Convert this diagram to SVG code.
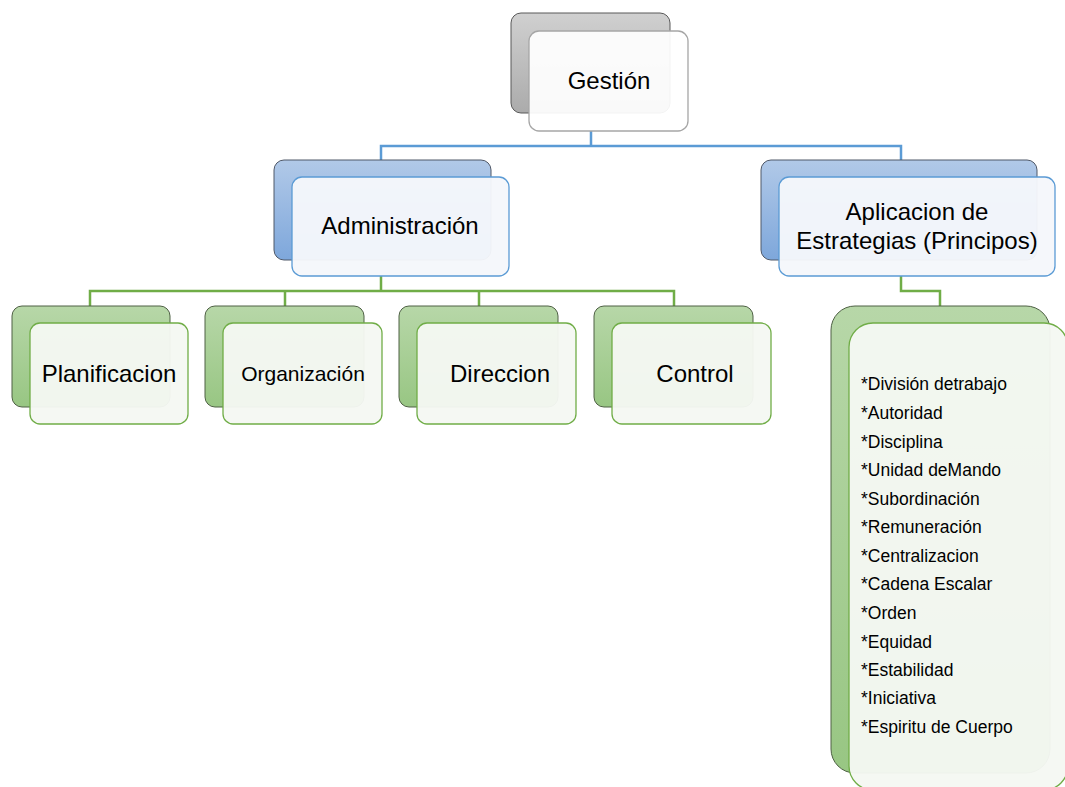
<svg xmlns="http://www.w3.org/2000/svg" width="1065" height="787" viewBox="0 0 1065 787">
<defs>
<linearGradient id="gGray" x1="0" y1="0" x2="0" y2="1"><stop offset="0" stop-color="#d0d0d0"/><stop offset="1" stop-color="#ababab"/></linearGradient>
<linearGradient id="gBlue" x1="0" y1="0" x2="0" y2="1"><stop offset="0" stop-color="#b1c9e8"/><stop offset="1" stop-color="#7ea7db"/></linearGradient>
<linearGradient id="gGreen" x1="0" y1="0" x2="0" y2="1"><stop offset="0" stop-color="#b7d7a8"/><stop offset="1" stop-color="#98c683"/></linearGradient>
</defs>
<style>
.bg{fill:url(#gGray);stroke:#595959;stroke-width:1}
.bb{fill:url(#gBlue);stroke:#4f5868;stroke-width:1}
.bgr{fill:url(#gGreen);stroke:#4e6044;stroke-width:1}
.fg{fill:#ffffff;fill-opacity:0.93;stroke:#a6a6a6;stroke-width:1.3}
.fb{fill:#f5f7fb;fill-opacity:0.96;stroke:#5b9bd5;stroke-width:1.3}
.fgr{fill:#f5f8f2;fill-opacity:0.96;stroke:#70ad47;stroke-width:1.3}
.cb{fill:none;stroke:#5b9bd5;stroke-width:2.5}
.cg{fill:none;stroke:#70ad47;stroke-width:2.5}
text{font-family:"Liberation Sans","Open Sans",Arial,sans-serif;fill:#000}
.t{font-size:24px;text-anchor:middle}
.l{font-size:17.5px}
</style>
<rect width="1065" height="787" fill="#fff"/>
<g id="connectors">
<path class="cb" d="M591 131 V146 H381 V160 M591 146 H901 V160"/>
<path class="cg" d="M381 276 V291 H90 V306 M285 291 V306 M479 291 V306 M381 291 H674 V306"/>
<path class="cg" d="M901 276 V291 H940 V306"/>
</g>
<g id="gestion">
<rect class="bg" x="511" y="13" width="159" height="100" rx="10"/>
<rect class="fg" x="529" y="31" width="159" height="100" rx="10"/>
<text class="t" x="609" y="89">Gestión</text>
</g>
<g id="administracion">
<rect class="bb" x="274" y="160" width="217" height="100" rx="10"/>
<rect class="fb" x="292" y="177" width="217" height="99" rx="10"/>
<text class="t" x="400" y="234">Administración</text>
</g>
<g id="aplicacion">
<rect class="bb" x="761" y="160" width="276" height="100" rx="10"/>
<rect class="fb" x="779" y="177" width="276" height="99" rx="10"/>
<text class="t" x="917" y="220">Aplicacion de</text>
<text class="t" x="917" y="249">Estrategias (Principos)</text>
</g>
<g id="planificacion">
<rect class="bgr" x="12" y="306" width="158" height="101" rx="10"/>
<rect class="fgr" x="30" y="323" width="158" height="101" rx="10"/>
<text class="t" x="109" y="382">Planificacion</text>
</g>
<g id="organizacion">
<rect class="bgr" x="205" y="306" width="159" height="101" rx="10"/>
<rect class="fgr" x="223" y="323" width="159" height="101" rx="10"/>
<text class="t" x="303" y="381" style="font-size:21px">Organización</text>
</g>
<g id="direccion">
<rect class="bgr" x="399" y="306" width="159" height="101" rx="10"/>
<rect class="fgr" x="417" y="323" width="159" height="101" rx="10"/>
<text class="t" x="500" y="382">Direccion</text>
</g>
<g id="control">
<rect class="bgr" x="594" y="306" width="159" height="101" rx="10"/>
<rect class="fgr" x="612" y="323" width="159" height="101" rx="10"/>
<text class="t" x="695" y="382">Control</text>
</g>
<g id="principios">
<rect class="bgr" x="831" y="306" width="219" height="467" rx="24"/>
<rect class="fgr" x="849" y="323" width="219" height="467" rx="24"/>
<text class="l" x="861" y="390">*División detrabajo</text>
<text class="l" x="861" y="419">*Autoridad</text>
<text class="l" x="861" y="448">*Disciplina</text>
<text class="l" x="861" y="476">*Unidad deMando</text>
<text class="l" x="861" y="505">*Subordinación</text>
<text class="l" x="861" y="533">*Remuneración</text>
<text class="l" x="861" y="562">*Centralizacion</text>
<text class="l" x="861" y="590">*Cadena Escalar</text>
<text class="l" x="861" y="619">*Orden</text>
<text class="l" x="861" y="648">*Equidad</text>
<text class="l" x="861" y="676">*Estabilidad</text>
<text class="l" x="861" y="704">*Iniciativa</text>
<text class="l" x="861" y="733">*Espiritu de Cuerpo</text>
</g>
</svg>
